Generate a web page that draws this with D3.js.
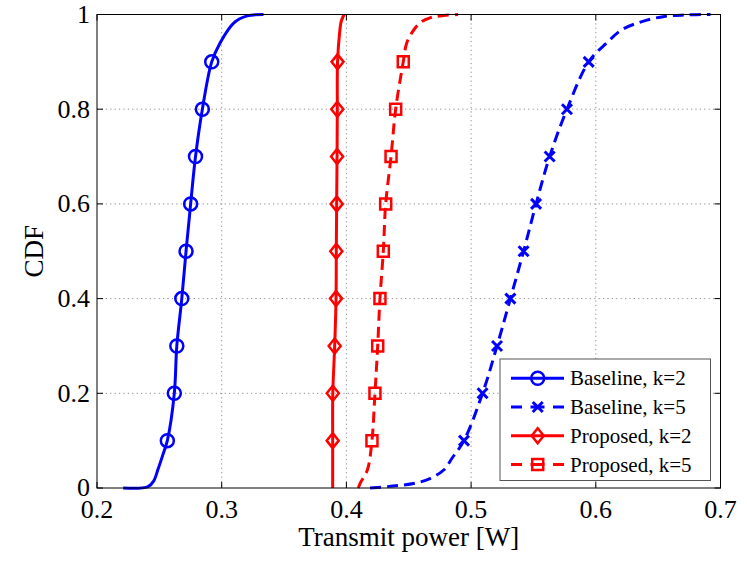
<!DOCTYPE html>
<html>
<head>
<meta charset="utf-8">
<script src="https://cdn.jsdelivr.net/npm/d3@7"></script>
<style>
  html, body { margin: 0; padding: 0; background: #fff; }
  svg { display: block; font-family: "Liberation Serif", "Times New Roman", serif; }
</style>
</head>
<body>
<div id="chart"></div>
<script>
// CDF curves: x = transmit power [W], y = CDF
const baseK2X = [0.221, 0.241, 0.2455, 0.249, 0.2528, 0.2564, 0.262, 0.264, 0.268, 0.2714, 0.2751, 0.279, 0.2845, 0.292, 0.2987, 0.3096, 0.3204, 0.3335];
const baseK2Y = [0, 0.003, 0.015, 0.04, 0.07, 0.1, 0.2, 0.3, 0.4, 0.5, 0.6, 0.7, 0.8, 0.9, 0.94, 0.982, 0.997, 1];

const baseK5X = [0.419, 0.437, 0.455, 0.467, 0.478, 0.4855, 0.4943, 0.5092, 0.5208, 0.5315, 0.5421, 0.5521, 0.563, 0.5769, 0.5943, 0.6087, 0.621, 0.637, 0.655, 0.672, 0.692];
const baseK5Y = [0, 0.004, 0.01, 0.02, 0.038, 0.066, 0.1, 0.2, 0.3, 0.4, 0.5, 0.6, 0.7, 0.8, 0.9, 0.94, 0.968, 0.985, 0.996, 0.999, 1];

const propK2X = [0.389, 0.389, 0.3891, 0.3906, 0.3917, 0.3919, 0.3922, 0.3925, 0.3927, 0.3929, 0.3945, 0.3958, 0.3981];
const propK2Y = [0, 0.1, 0.2, 0.3, 0.4, 0.5, 0.6, 0.7, 0.8, 0.9, 0.96, 0.985, 1];

const propK5X = [0.4096, 0.411, 0.4168, 0.4205, 0.4229, 0.4251, 0.4269, 0.4296, 0.4315, 0.4358, 0.4395, 0.4456, 0.4484, 0.455, 0.4604, 0.467, 0.475, 0.4895];
const propK5Y = [0, 0.01, 0.038, 0.1, 0.2, 0.3, 0.4, 0.5, 0.6, 0.7, 0.8, 0.9, 0.94, 0.971, 0.985, 0.993, 0.997, 1];

// markers sit on the CDF levels 0.1 ... 0.9
const markerLevels = [0.1, 0.2, 0.3, 0.4, 0.5, 0.6, 0.7, 0.8, 0.9];

const xTicks = [0.2, 0.3, 0.4, 0.5, 0.6, 0.7];
const yTicks = [0, 0.2, 0.4, 0.6, 0.8, 1];

const seriesNames = ["Baseline, k=2", "Baseline, k=5", "Proposed, k=2", "Proposed, k=5"];

const series = [
    { name: seriesNames[0], xs: baseK2X, ys: baseK2Y, color: "#0000ff", dashed: false, marker: "circle" },
    { name: seriesNames[1], xs: baseK5X, ys: baseK5Y, color: "#0000ff", dashed: true, marker: "cross" },
    { name: seriesNames[2], xs: propK2X, ys: propK2Y, color: "#ff0000", dashed: false, marker: "diamond" },
    { name: seriesNames[3], xs: propK5X, ys: propK5Y, color: "#ff0000", dashed: true, marker: "square" }
];

const width = 747, height = 562;
const plot = { left: 97, right: 720.5, top: 14.5, bottom: 488 };

const svg = d3.select("#chart").append("svg")
    .attr("width", width)
    .attr("height", height);

svg.append("rect").attr("width", width).attr("height", height).attr("fill", "#fff");

const x = d3.scaleLinear().domain([0.2, 0.7]).range([plot.left, plot.right]);
const y = d3.scaleLinear().domain([0, 1]).range([plot.bottom, plot.top]);

const fmt = d => String(+d.toFixed(1));

// dotted grid
const grid = svg.append("g")
    .attr("stroke", "#8c8c8c")
    .attr("stroke-width", 1)
    .attr("stroke-dasharray", "1.2,3.2");

grid.selectAll("line.gx")
    .data(xTicks.slice(1, -1))
    .join("line")
    .attr("x1", d => x(d)).attr("x2", d => x(d))
    .attr("y1", plot.top).attr("y2", plot.bottom);

grid.selectAll("line.gy")
    .data(yTicks.slice(1, -1))
    .join("line")
    .attr("class", "gy")
    .attr("x1", plot.left).attr("x2", plot.right)
    .attr("y1", d => y(d)).attr("y2", d => y(d));

// curves
const line = d3.line()
    .x(d => x(d[0]))
    .y(d => y(d[1]))
    .curve(d3.curveCatmullRom.alpha(0.5));

function markerPath(type, cx, cy) {
    if (type === "circle") {
        return `M${cx + 6.5},${cy}A6.5,6.5 0 1,1 ${cx - 6.5},${cy}A6.5,6.5 0 1,1 ${cx + 6.5},${cy}Z`;
    }
    if (type === "diamond") {
        return `M${cx},${cy - 7.5}L${cx + 6},${cy}L${cx},${cy + 7.5}L${cx - 6},${cy}Z`;
    }
    if (type === "square") {
        return `M${cx - 5.5},${cy - 5.5}h11v11h-11Z`;
    }
    // cross
    return `M${cx - 5},${cy - 5}L${cx + 5},${cy + 5}M${cx - 5},${cy + 5}L${cx + 5},${cy - 5}`;
}

series.forEach(s => {
    const pts = s.xs.map((v, i) => [v, s.ys[i]]);
    svg.append("path")
        .datum(pts)
        .attr("d", line)
        .attr("fill", "none")
        .attr("stroke", s.color)
        .attr("stroke-width", 3)
        .attr("stroke-dasharray", s.dashed ? "11,6" : null);

    const marks = pts.filter(p => markerLevels.some(l => Math.abs(l - p[1]) < 1e-9));
    svg.append("g")
        .selectAll("path")
        .data(marks)
        .join("path")
        .attr("d", p => markerPath(s.marker, x(p[0]), y(p[1])))
        .attr("fill", "none")
        .attr("stroke", s.color)
        .attr("stroke-width", s.marker === "cross" ? 3 : 2.5);
});

// axes box with inward ticks on all four sides
const tickLen = 6;
const axes = svg.append("g").attr("stroke", "#000").attr("stroke-width", 1);

axes.append("rect")
    .attr("x", plot.left).attr("y", plot.top)
    .attr("width", plot.right - plot.left)
    .attr("height", plot.bottom - plot.top)
    .attr("fill", "none");

xTicks.forEach(t => {
    axes.append("line").attr("x1", x(t)).attr("x2", x(t)).attr("y1", plot.bottom).attr("y2", plot.bottom - tickLen);
    axes.append("line").attr("x1", x(t)).attr("x2", x(t)).attr("y1", plot.top).attr("y2", plot.top + tickLen);
});
yTicks.forEach(t => {
    axes.append("line").attr("x1", plot.left).attr("x2", plot.left + tickLen).attr("y1", y(t)).attr("y2", y(t));
    axes.append("line").attr("x1", plot.right).attr("x2", plot.right - tickLen).attr("y1", y(t)).attr("y2", y(t));
});

// tick labels
svg.append("g")
    .selectAll("text")
    .data(xTicks)
    .join("text")
    .attr("x", d => x(d))
    .attr("y", plot.bottom + 30)
    .attr("text-anchor", "middle")
    .attr("font-size", 26)
    .text(fmt);

svg.append("g")
    .selectAll("text")
    .data(yTicks)
    .join("text")
    .attr("x", plot.left - 7)
    .attr("y", d => y(d))
    .attr("dy", "0.32em")
    .attr("text-anchor", "end")
    .attr("font-size", 26)
    .text(fmt);

// axis titles
svg.append("text")
    .attr("x", (plot.left + plot.right) / 2)
    .attr("y", 546)
    .attr("text-anchor", "middle")
    .attr("font-size", 27)
    .text("Transmit power [W]");

svg.append("text")
    .attr("transform", `translate(43, ${(plot.top + plot.bottom) / 2}) rotate(-90)`)
    .attr("text-anchor", "middle")
    .attr("font-size", 27)
    .text("CDF");

// legend
const legend = svg.append("g");
legend.append("rect")
    .attr("x", 500).attr("y", 359)
    .attr("width", 210.5).attr("height", 121.5)
    .attr("fill", "#fff")
    .attr("stroke", "#555")
    .attr("stroke-width", 1);

series.forEach((s, i) => {
    const ly = 378.3 + i * 28.7;
    legend.append("line")
        .attr("x1", 511).attr("x2", 564)
        .attr("y1", ly).attr("y2", ly)
        .attr("stroke", s.color)
        .attr("stroke-width", 3)
        .attr("stroke-dasharray", s.dashed ? "11,8.5,14,8.5,11" : null);
    legend.append("path")
        .attr("d", markerPath(s.marker, 537.7, ly))
        .attr("fill", "none")
        .attr("stroke", s.color)
        .attr("stroke-width", s.marker === "cross" ? 3 : 2.5);
    legend.append("text")
        .attr("x", 570)
        .attr("y", ly)
        .attr("dy", "0.34em")
        .attr("font-size", 21)
        .text(s.name);
});
</script>
</body>
</html>
